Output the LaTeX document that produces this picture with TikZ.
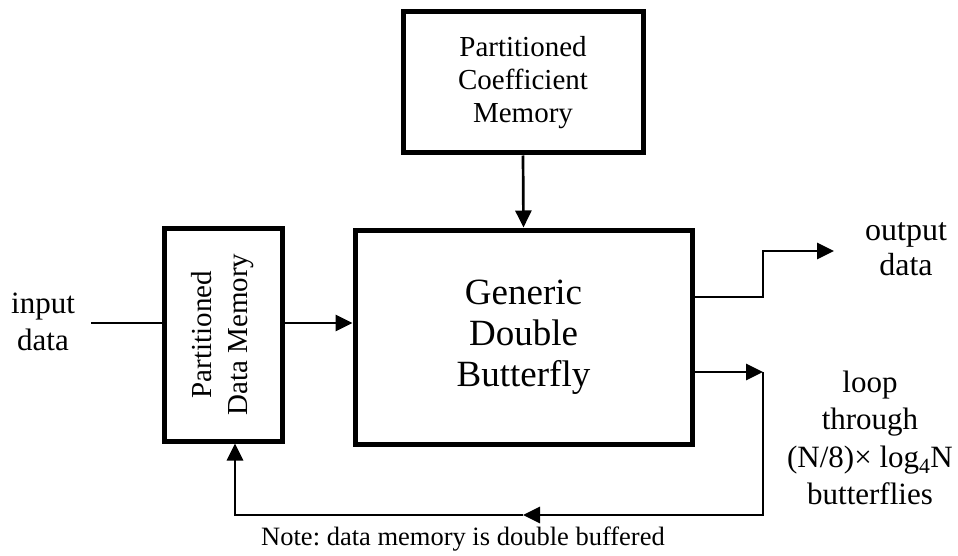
\documentclass[tikz,border=0pt]{standalone}
\usepackage{fontspec}
\setmainfont{Liberation Serif}
\frenchspacing
\usetikzlibrary{arrows.meta}
\tikzset{
  blk/.style={draw=black, line width=5pt, fill=white, inner sep=0pt, align=center},
  conn/.style={draw=black, line width=2.7pt},
  tip/.style={-{Triangle[length=17pt,width=16pt]}},
  lbl/.style={align=center, inner sep=0pt},
}
\begin{document}
\begin{tikzpicture}[x=1pt,y=-1pt]
\useasboundingbox (0,0) rectangle (958,556);
% boxes
\node[blk, minimum width=240pt, minimum height=141pt,
      font=\fontsize{29}{33}\selectfont] (coef) at (523,82.5)
      {Partitioned\\Coefficient\\Memory};
\node[blk, minimum width=337pt, minimum height=214pt,
      font=\fontsize{37}{41}\selectfont] (bfly) at (523.5,337)
      {Generic\\Double\\Butterfly};
\node[blk, minimum width=118pt, minimum height=213pt] (dmem) at (223,334.5) {};
\node[lbl, rotate=90, font=\fontsize{29}{36}\selectfont] (dmemtxt) at (dmem.center)
      {Partitioned\\Data Memory};
% labels
\node[lbl, font=\fontsize{31}{37}\selectfont] (inp) at (43,322) {input\\data};
\node[lbl, font=\fontsize{32}{35}\selectfont] (outp) at (906,249) {output\\data};
\node[lbl, font=\fontsize{31}{37.5}\selectfont] (loop) at (870,438)
      {loop\\through\\(N/8)× log\textsubscript{4}N\\butterflies};
\node[lbl, font=\fontsize{26.5}{30}\selectfont] (note) at (463,539)
      {Note: data memory is double buffered};
% helper coordinates
\coordinate (instart) at (91,323);
\coordinate (oturn) at (763,251);
\coordinate (otip) at (834,251);
\coordinate (ltip) at (763,372);
\coordinate (lcorner) at (763,515);
\coordinate (lmid) at (523,515);
\coordinate (lx) at (235,0);
% connectors
\draw[conn] (instart) -- (instart -| dmem.west);
\draw[conn,tip] (dmem.east |- instart) -- (bfly.west |- instart);
\draw[conn,tip] (coef.south) -- (bfly.north);
\draw[conn,tip] (bfly.east |- 0,297) -| (oturn) -- (otip);
\draw[conn,tip] (bfly.east |- ltip) -- (ltip);
\draw[conn,tip] (ltip) -- (lcorner) -- (lmid);
\draw[conn,tip] (lmid) -| (lx |- dmem.south);
\end{tikzpicture}
\end{document}
